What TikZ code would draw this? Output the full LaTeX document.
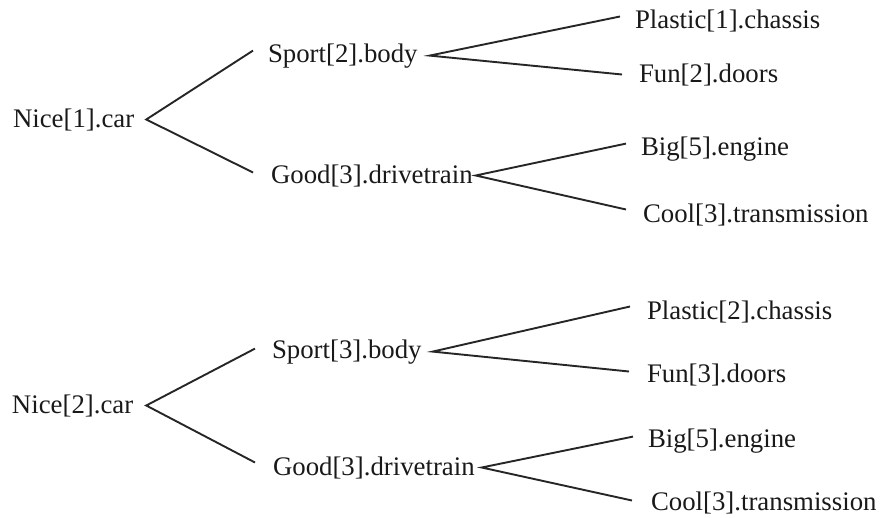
\documentclass[tikz,border=0pt]{standalone}
\usepackage{fontspec}
\setmainfont{Liberation Serif}
\begin{document}
\begin{tikzpicture}[x=1pt,y=-1pt,
  part/.style={anchor=base west,inner sep=0pt,outer sep=0pt,text=black!90,
    font=\fontsize{26.8pt}{30pt}\selectfont},
  branch/.style={draw=black!85,line width=1.9pt}]
\useasboundingbox (0,0) rectangle (880,517);

% first car
\node[part] (n1)  at (13,127)  {Nice[1].car};
\node[part] (sp1) at (268,62)  {Sport[2].body};
\node[part] (gd1) at (271,183) {Good[3].drivetrain};
\node[part] (pl1) at (635,28)  {Plastic[1].chassis};
\node[part] (fu1) at (639,82)  {Fun[2].doors};
\node[part] (bg1) at (641,155) {Big[5].engine};
\node[part] (co1) at (643,222) {Cool[3].transmission};

\draw[branch] ([shift={(-15pt,5pt)}]sp1.west) -- ([xshift=12pt]n1.east) -- ([shift={(-18pt,3pt)}]gd1.west);
\draw[branch] ([shift={(-15pt,4pt)}]pl1.west) -- ([xshift=12pt]sp1.east) -- ([shift={(-17pt,0pt)}]fu1.west);
\draw[branch] ([shift={(-15pt,5pt)}]bg1.west) -- ([xshift=3pt]gd1.east) -- ([shift={(-17pt,5pt)}]co1.west);

% second car
\node[part] (n2)  at (12,413)  {Nice[2].car};
\node[part] (sp2) at (272,358) {Sport[3].body};
\node[part] (gd2) at (273,475) {Good[3].drivetrain};
\node[part] (pl2) at (647,319) {Plastic[2].chassis};
\node[part] (fu2) at (647,382) {Fun[3].doors};
\node[part] (bg2) at (648,447) {Big[5].engine};
\node[part] (co2) at (651,510) {Cool[3].transmission};

\draw[branch] ([shift={(-17pt,3pt)}]sp2.west) -- ([xshift=13pt]n2.east) -- ([shift={(-18pt,5pt)}]gd2.west);
\draw[branch] ([shift={(-17pt,5pt)}]pl2.west) -- ([xshift=11pt]sp2.east) -- ([shift={(-18pt,3pt)}]fu2.west);
\draw[branch] ([shift={(-15pt,4pt)}]bg2.west) -- ([xshift=7pt]gd2.east) -- ([shift={(-19pt,2pt)}]co2.west);
\end{tikzpicture}
\end{document}
